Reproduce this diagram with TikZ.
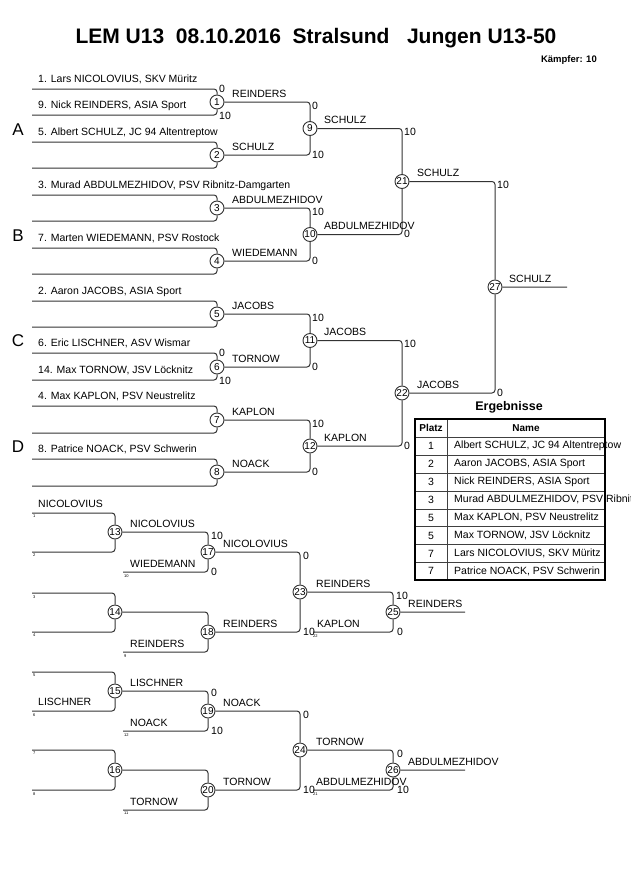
\documentclass[tikz,border=0pt]{standalone}
\usepackage{fontspec}
\setmainfont{Liberation Sans}
\usetikzlibrary{positioning}

\begin{document}
\begin{tikzpicture}[x=1pt,y=-1pt,
  fight/.style={circle,draw=black!80,line width=0.9pt,minimum size=14pt,inner sep=0pt,font=\fontsize{10}{10}\selectfont},
  entry/.style={anchor=base west,inner sep=0pt,font=\fontsize{10.5}{12}\selectfont},
  score/.style={anchor=west,inner sep=0pt,font=\fontsize{10.5}{12}\selectfont},
  tiny/.style={anchor=north west,inner sep=0pt,font=\fontsize{4}{4}\selectfont},
  pool/.style={inner sep=0pt,font=\fontsize{17}{17}\selectfont},
  bracket/.style={draw=black!80,line width=1pt,rounded corners=3pt}]
\useasboundingbox (0,0) rectangle (630,891);

% title
\node[font=\bfseries\fontsize{21}{21}\selectfont] (title) at (316,38) {LEM U13\ \ 08.10.2016\ \ Stralsund\ \ \ Jungen U13-50};
\node[anchor=east,inner sep=0pt,font=\bfseries\fontsize{9.5}{10}\selectfont] (count) at (597,60) {Kämpfer: 10};

% pools
\node[pool] (pA) at (18,130) {A};
\node[pool] (pB) at (18,236) {B};
\node[pool] (pC) at (18,341) {C};
\node[pool] (pD) at (18,447) {D};

% main bracket
\node[fight] (f1) at (217,102) {1};
\node[fight] (f2) at (217,155) {2};
\node[fight] (f3) at (217,208) {3};
\node[fight] (f4) at (217,261) {4};
\node[fight] (f5) at (217,314) {5};
\node[fight] (f6) at (217,367) {6};
\node[fight] (f7) at (217,420) {7};
\node[fight] (f8) at (217,472) {8};
\node[fight] (f9) at (310,128.5) {9};
\node[fight] (f10) at (310,234.5) {10};
\node[fight] (f11) at (310,340.5) {11};
\node[fight] (f12) at (310,446) {12};
\node[fight] (f21) at (402,181.5) {21};
\node[fight] (f22) at (402,393) {22};
\node[fight] (f27) at (495,287) {27};

\coordinate (a1) at (32,89);  \coordinate (b1) at (32,115);
\coordinate (a2) at (32,142); \coordinate (b2) at (32,168);
\coordinate (a3) at (32,195); \coordinate (b3) at (32,221);
\coordinate (a4) at (32,248); \coordinate (b4) at (32,274);
\coordinate (a5) at (32,301); \coordinate (b5) at (32,327);
\coordinate (a6) at (32,353); \coordinate (b6) at (32,380);
\coordinate (a7) at (32,406); \coordinate (b7) at (32,433);
\coordinate (a8) at (32,459); \coordinate (b8) at (32,486);
\coordinate (w27) at (567,287);

\draw[bracket] (a1) -| (f1) (b1) -| (f1) (a2) -| (f2) (b2) -| (f2)
  (a3) -| (f3) (b3) -| (f3) (a4) -| (f4) (b4) -| (f4)
  (a5) -| (f5) (b5) -| (f5) (a6) -| (f6) (b6) -| (f6)
  (a7) -| (f7) (b7) -| (f7) (a8) -| (f8) (b8) -| (f8);
\draw[bracket] (f1) -| (f9) (f2) -| (f9) (f3) -| (f10) (f4) -| (f10)
  (f5) -| (f11) (f6) -| (f11) (f7) -| (f12) (f8) -| (f12);
\draw[bracket] (f9) -| (f21) (f10) -| (f21) (f11) -| (f22) (f12) -| (f22);
\draw[bracket] (f21) -| (f27) (f22) -| (f27) (f27) -- (w27);

% entries
\node[entry] (n1) at (38,82) {1. Lars NICOLOVIUS, SKV Müritz};
\node[entry] (n9) at (38,108) {9. Nick REINDERS, ASIA Sport};
\node[entry] (n5) at (38,135) {5. Albert SCHULZ, JC 94 Altentreptow};
\node[entry] (n3) at (38,188) {3. Murad ABDULMEZHIDOV, PSV Ribnitz-Damgarten};
\node[entry] (n7) at (38,241) {7. Marten WIEDEMANN, PSV Rostock};
\node[entry] (n2) at (38,294) {2. Aaron JACOBS, ASIA Sport};
\node[entry] (n6) at (38,346) {6. Eric LISCHNER, ASV Wismar};
\node[entry] (n14) at (38,373) {14. Max TORNOW, JSV Löcknitz};
\node[entry] (n4) at (38,399) {4. Max KAPLON, PSV Neustrelitz};
\node[entry] (n8) at (38,452) {8. Patrice NOACK, PSV Schwerin};

% winners
\node[entry] (v1) at (232,97) {REINDERS};
\node[entry] (v2) at (232,150) {SCHULZ};
\node[entry] (v3) at (232,203) {ABDULMEZHIDOV};
\node[entry] (v4) at (232,256) {WIEDEMANN};
\node[entry] (v5) at (232,309) {JACOBS};
\node[entry] (v6) at (232,362) {TORNOW};
\node[entry] (v7) at (232,415) {KAPLON};
\node[entry] (v8) at (232,467) {NOACK};
\node[entry] (v9) at (324,123.5) {SCHULZ};
\node[entry] (v10) at (324,229.5) {ABDULMEZHIDOV};
\node[entry] (v11) at (324,335.5) {JACOBS};
\node[entry] (v12) at (324,441) {KAPLON};
\node[entry] (v21) at (417,176.5) {SCHULZ};
\node[entry] (v22) at (417,388) {JACOBS};
\node[entry] (v27) at (509,282) {SCHULZ};

% scores
\node[score] at (219,89) {0};   \node[score] at (219,116) {10};
\node[score] at (219,353) {0};  \node[score] at (219,381) {10};
\node[score] at (312,106) {0};  \node[score] at (312,155) {10};
\node[score] at (312,212) {10}; \node[score] at (312,261) {0};
\node[score] at (312,318) {10}; \node[score] at (312,367) {0};
\node[score] at (312,424) {10}; \node[score] at (312,472) {0};
\node[score] at (404,132) {10}; \node[score] at (404,234) {0};
\node[score] at (404,344) {10}; \node[score] at (404,446) {0};
\node[score] at (497,185) {10}; \node[score] at (497,393) {0};

% results
\node[font=\bfseries\fontsize{12.5}{14}\selectfont] (erg) at (509,407) {Ergebnisse};
\draw[black!75,line width=0.8pt] (415,437) -- (605,437) (415,455) -- (605,455)
  (415,473) -- (605,473) (415,491) -- (605,491) (415,509) -- (605,509)
  (415,526.5) -- (605,526.5) (415,544.5) -- (605,544.5) (415,562.5) -- (605,562.5)
  (447,419) -- (447,580);
\draw[line width=1.6pt] (415,419) rectangle (605,580);
\node[font=\bfseries\fontsize{10}{12}\selectfont] (platz) at (431,428) {Platz};
\node[font=\bfseries\fontsize{10}{12}\selectfont] (name) at (526,428) {Name};
\node[score,anchor=center] (p1) at (431,446) {1};
\node[score,anchor=center] (p2) at (431,464) {2};
\node[score,anchor=center] (p3) at (431,482) {3};
\node[score,anchor=center] (p4) at (431,500) {3};
\node[score,anchor=center] (p5) at (431,517.5) {5};
\node[score,anchor=center] (p6) at (431,535.5) {5};
\node[score,anchor=center] (p7) at (431,553.5) {7};
\node[score,anchor=center] (p8) at (431,571) {7};
\node[score] (r1) at (454,446) {Albert SCHULZ, JC 94 Altentreptow};
\node[score] (r2) at (454,464) {Aaron JACOBS, ASIA Sport};
\node[score] (r3) at (454,482) {Nick REINDERS, ASIA Sport};
\node[score] (r4) at (454,500) {Murad ABDULMEZHIDOV, PSV Ribnitz-Damgarten};
\node[score] (r5) at (454,517.5) {Max KAPLON, PSV Neustrelitz};
\node[score] (r6) at (454,535.5) {Max TORNOW, JSV Löcknitz};
\node[score] (r7) at (454,553.5) {Lars NICOLOVIUS, SKV Müritz};
\node[score] (r8) at (454,571) {Patrice NOACK, PSV Schwerin};

% repechage
\node[fight] (f13) at (115,532) {13};
\node[fight] (f14) at (115,612) {14};
\node[fight] (f15) at (115,691) {15};
\node[fight] (f16) at (115,770) {16};
\node[fight] (f17) at (208,552) {17};
\node[fight] (f18) at (208,632) {18};
\node[fight] (f19) at (208,711) {19};
\node[fight] (f20) at (208,790) {20};
\node[fight] (f23) at (300,592) {23};
\node[fight] (f24) at (300,750) {24};
\node[fight] (f25) at (393,612) {25};
\node[fight] (f26) at (393,770) {26};

\coordinate (c13a) at (32,513); \coordinate (c13b) at (32,552);
\coordinate (c14a) at (32,593); \coordinate (c14b) at (32,632);
\coordinate (c15a) at (32,672); \coordinate (c15b) at (32,711);
\coordinate (c16a) at (32,750); \coordinate (c16b) at (32,790);
\coordinate (c17b) at (123,572); \coordinate (c18b) at (123,652);
\coordinate (c19b) at (123,731); \coordinate (c20b) at (123,810);
\coordinate (c25b) at (313,632); \coordinate (c26b) at (313,790);
\coordinate (w25) at (465,612); \coordinate (w26) at (465,770);

\draw[bracket] (c13a) -| (f13) (c13b) -| (f13) (c14a) -| (f14) (c14b) -| (f14)
  (c15a) -| (f15) (c15b) -| (f15) (c16a) -| (f16) (c16b) -| (f16);
\draw[bracket] (f13) -| (f17) (c17b) -| (f17) (f14) -| (f18) (c18b) -| (f18)
  (f15) -| (f19) (c19b) -| (f19) (f16) -| (f20) (c20b) -| (f20);
\draw[bracket] (f17) -| (f23) (f18) -| (f23) (f19) -| (f24) (f20) -| (f24);
\draw[bracket] (f23) -| (f25) (c25b) -| (f25) (f24) -| (f26) (c26b) -| (f26)
  (f25) -- (w25) (f26) -- (w26);

\node[entry] at (38,507) {NICOLOVIUS};
\node[entry] at (38,705) {LISCHNER};
\node[entry] at (130,527) {NICOLOVIUS};
\node[entry] at (130,567) {WIEDEMANN};
\node[entry] at (223,547) {NICOLOVIUS};
\node[entry] at (130,647) {REINDERS};
\node[entry] at (223,627) {REINDERS};
\node[entry] at (316,587) {REINDERS};
\node[entry] at (317,627) {KAPLON};
\node[entry] at (408,607) {REINDERS};
\node[entry] at (130,686) {LISCHNER};
\node[entry] at (130,726) {NOACK};
\node[entry] at (223,706) {NOACK};
\node[entry] at (130,805) {TORNOW};
\node[entry] at (223,785) {TORNOW};
\node[entry] at (316,745) {TORNOW};
\node[entry] at (316,785) {ABDULMEZHIDOV};
\node[entry] at (408,765) {ABDULMEZHIDOV};

\node[score] at (211,536) {10}; \node[score] at (211,572) {0};
\node[score] at (303,556) {0};  \node[score] at (303,632) {10};
\node[score] at (396,596) {10}; \node[score] at (397,632) {0};
\node[score] at (211,693) {0};  \node[score] at (211,731) {10};
\node[score] at (303,715) {0};  \node[score] at (303,790) {10};
\node[score] at (397,754) {0};  \node[score] at (397,790) {10};

\node[tiny] at (33,515) {1};  \node[tiny] at (33,554) {2};
\node[tiny] at (33,595) {3};  \node[tiny] at (33,634) {4};
\node[tiny] at (33,674) {5};  \node[tiny] at (33,713) {6};
\node[tiny] at (33,752) {7};  \node[tiny] at (33,792) {8};
\node[tiny] at (124,574) {10}; \node[tiny] at (124,654) {9};
\node[tiny] at (124,733) {12}; \node[tiny] at (124,812) {11};
\node[tiny] at (313,634) {22}; \node[tiny] at (313,792) {21};
\end{tikzpicture}
\end{document}
